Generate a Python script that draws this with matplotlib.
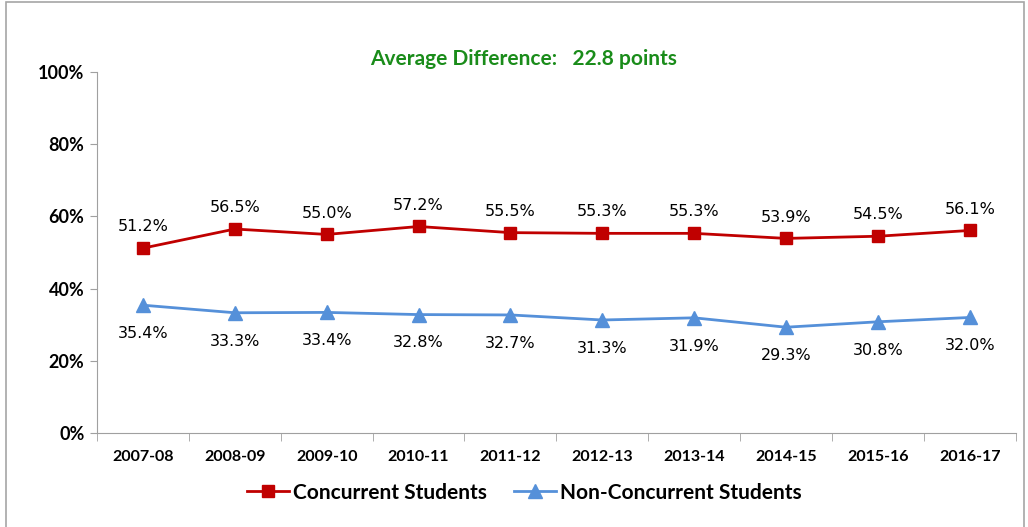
import numpy as np
import matplotlib.pyplot as plt
from matplotlib.patches import Rectangle

years = ['2007-08', '2008-09', '2009-10', '2010-11', '2011-12',
         '2012-13', '2013-14', '2014-15', '2015-16', '2016-17']
concurrent = [51.2, 56.5, 55.0, 57.2, 55.5, 55.3, 55.3, 53.9, 54.5, 56.1]
non_concurrent = [35.4, 33.3, 33.4, 32.8, 32.7, 31.3, 31.9, 29.3, 30.8, 32.0]
yticks = [0, 20, 40, 60, 80, 100]

red = '#C00000'
blue = '#5590D9'
font = ['Lato', 'DejaVu Sans']

fig = plt.figure(figsize=(10.28, 5.27), dpi=100)
ax = fig.add_axes([0.0944, 0.1784, 0.8936, 0.685])

x = np.arange(len(years))
ax.plot(x, concurrent, color=red, lw=2, marker='s', ms=8.5,
        label='Concurrent Students')
ax.plot(x, non_concurrent, color=blue, lw=2, marker='^', ms=10,
        label='Non-Concurrent Students')

for i in range(len(years)):
    ax.annotate(f'{concurrent[i]:.1f}%', (x[i], concurrent[i]), xytext=(0, 10),
                textcoords='offset points', ha='center', va='bottom',
                fontsize=11.5, family='DejaVu Sans', color='#000000')
    ax.annotate(f'{non_concurrent[i]:.1f}%', (x[i], non_concurrent[i]), xytext=(0, -15),
                textcoords='offset points', ha='center', va='top',
                fontsize=11.5, family='DejaVu Sans', color='#000000')

ax.set_xlim(-0.5, len(years) - 0.5)
ax.set_ylim(0, 100)
ax.set_yticks(yticks)
ax.set_yticklabels([f'{v}%' for v in yticks], family=font, fontsize=13, fontweight='bold')
ax.set_xticks(x)
ax.set_xticklabels(years, family=font, fontsize=11.5, fontweight='bold')
ax.tick_params(axis='x', length=0, pad=12)
ax.set_xticks(np.arange(-0.5, len(years)), minor=True)
ax.tick_params(axis='x', which='minor', length=6, color='#A0A0A0')
ax.tick_params(axis='y', length=5, color='#A0A0A0', pad=4)

for s in ['top', 'right']:
    ax.spines[s].set_visible(False)
for s in ['left', 'bottom']:
    ax.spines[s].set_color('#A0A0A0')

fig.text(0.509, 0.888, 'Average Difference:   22.8 points', ha='center', va='center',
         color='#1A8C1A', fontsize=15, fontweight='bold', family=font)

leg = fig.legend(loc='center', bbox_to_anchor=(0.51, 0.065), ncol=2, frameon=False,
                 prop={'family': font, 'size': 15, 'weight': 'bold'},
                 handlelength=2.0, handletextpad=0.2, columnspacing=1.3)

fig.patches.append(Rectangle((0.006, -0.01), 0.99, 1.006, transform=fig.transFigure,
                             fill=False, edgecolor='#A6A6A6', lw=1.2))

fig.savefig('out.png', dpi=100)
